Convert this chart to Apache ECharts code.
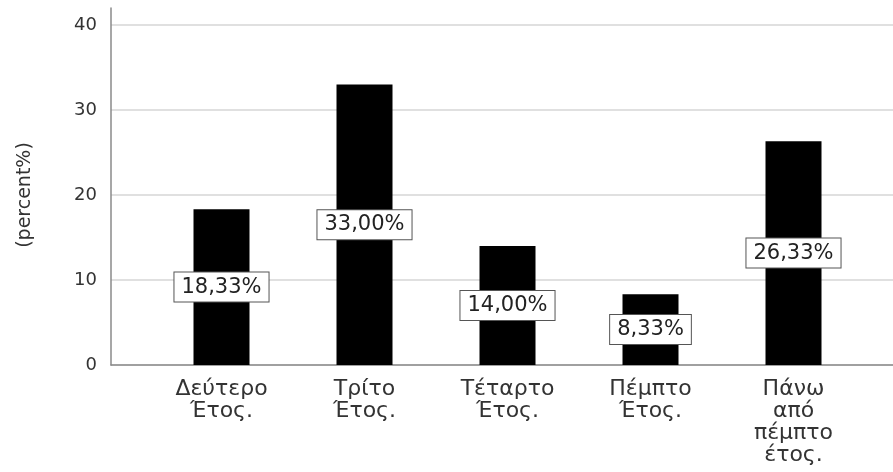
<!DOCTYPE html>
<html>
<head>
<meta charset="utf-8">
<title>percent by year</title>
<script src="https://cdn.jsdelivr.net/npm/echarts@6/dist/echarts.min.js"></script>
<style>
  html, body { margin: 0; padding: 0; background: #fff; }
  #chart { width: 893px; height: 472px; }
</style>
</head>
<body>
<div id="chart"></div>
<script>
// chart data
const categories = ['Δεύτερο\nΈτος.', 'Τρίτο\nΈτος.', 'Τέταρτο\nΈτος.', 'Πέμπτο\nΈτος.', 'Πάνω\nαπό\nπέμπτο\nέτος.']
const percents = [18.33, 33.00, 14.00, 8.33, 26.33]
const yMin = 0
const yMax = 40
const yStep = 10
const yName = '(percent%)'

const font = 'DejaVu Sans'

const chart = echarts.init(document.getElementById('chart'))
chart.setOption({
  animation: false,
  textStyle: { fontFamily: font },
  grid: [
    // gridlines + tick labels + bottom axis line
    { left: 111, right: 0, top: 25, bottom: 107 },
    // vertical axis line (goes a bit above 40)
    { left: 111, right: 0, top: 8, bottom: 107 },
    // bars
    { left: 150, right: 28, top: 25, bottom: 107 }
  ],
  xAxis: [
    {
      gridIndex: 0, type: 'value', min: 0, max: 1,
      axisLine: { show: true, lineStyle: { color: '#8a8a8a', width: 1.5 } },
      axisTick: { show: false }, axisLabel: { show: false }, splitLine: { show: false }
    },
    { gridIndex: 1, type: 'value', min: 0, max: 1, show: false },
    {
      gridIndex: 2, type: 'category', data: categories,
      axisLine: { show: false }, axisTick: { show: false },
      axisLabel: { fontSize: 22, color: '#333', lineHeight: 22, margin: 13, interval: 0 }
    }
  ],
  yAxis: [
    {
      gridIndex: 0, type: 'value', min: yMin, max: yMax, interval: yStep,
      name: yName, nameLocation: 'middle', nameRotate: 90, nameGap: 76,
      nameTextStyle: { fontSize: 19, color: '#333' },
      axisLine: { show: false }, axisTick: { show: false },
      axisLabel: { fontSize: 18, color: '#333', margin: 14 },
      splitLine: { lineStyle: { color: '#d6d6d6', width: 1.5 } }
    },
    {
      gridIndex: 1, type: 'value', min: 0, max: 1,
      axisLine: { show: true, lineStyle: { color: '#8a8a8a', width: 1.5 } },
      axisTick: { show: false }, axisLabel: { show: false }, splitLine: { show: false }
    },
    { gridIndex: 2, type: 'value', min: yMin, max: yMax, show: false }
  ],
  series: [
    {
      type: 'bar',
      xAxisIndex: 2,
      yAxisIndex: 2,
      data: percents,
      barWidth: 56,
      itemStyle: { color: '#000' },
      label: {
        show: true,
        position: 'inside',
        formatter: p => p.value.toFixed(2).replace('.', ',') + '%',
        fontSize: 21,
        color: '#222',
        backgroundColor: '#fff',
        borderColor: '#555',
        borderWidth: 1,
        padding: [4, 7]
      }
    }
  ]
})
</script>
</body>
</html>
